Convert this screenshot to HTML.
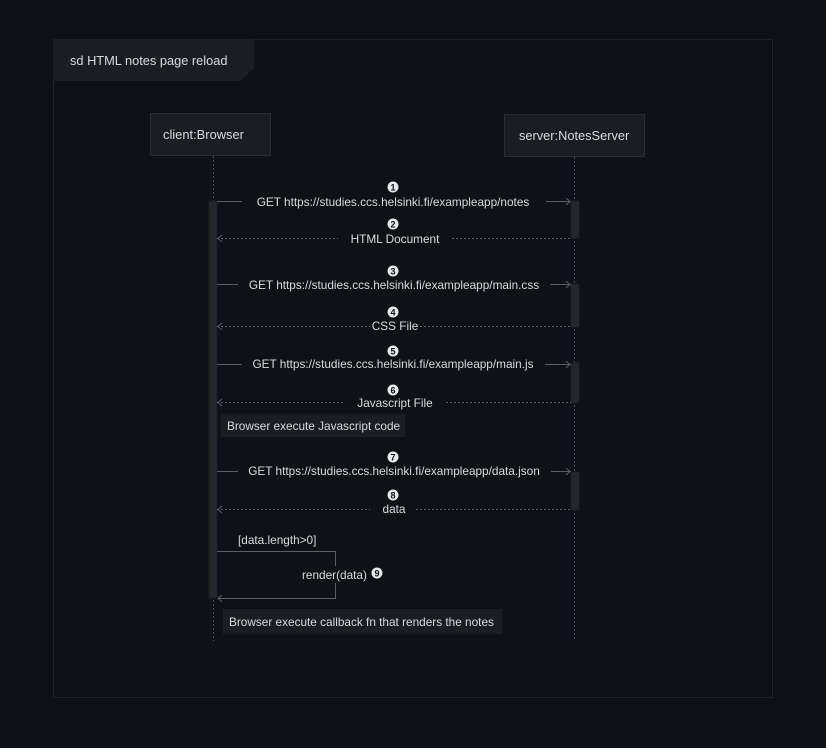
<!DOCTYPE html>
<html><head><meta charset="utf-8"><style>
html,body{margin:0;padding:0;background:#0e1118;}
svg{display:block}
text{font-family:"Liberation Sans",sans-serif;fill:#d8dade;font-size:11.8px}
</style></head><body>
<svg width="826" height="748" viewBox="0 0 826 748" xmlns="http://www.w3.org/2000/svg">
<rect width="826" height="748" fill="#0e1118"/>
<rect x="53.5" y="39.5" width="719" height="658" fill="#0e1118" stroke="#1f2229"/>
<polygon points="53,39 254,39 254,68 241,81 53,81" fill="#1b1d22"/>
<text x="70" y="65" style="font-size:12.8px">sd HTML notes page reload</text>
<rect x="150.5" y="113.5" width="120" height="42" fill="#1b1d22" stroke="#2a2d33"/>
<text x="163" y="139" style="font-size:12.9px">client:Browser</text>
<rect x="504.5" y="114.5" width="140" height="42" fill="#1b1d22" stroke="#2a2d33"/>
<text x="519" y="140" style="font-size:12.8px">server:NotesServer</text>
<g stroke="#4a4d55" stroke-dasharray="2,2" stroke-width="1">
<line x1="213.5" y1="156" x2="213.5" y2="641"/>
<line x1="574.5" y1="157" x2="574.5" y2="641"/>
</g>
<g fill="#26272a" stroke="#1c1d20">
<rect x="209" y="201" width="8" height="397"/>
<rect x="571" y="201" width="8" height="37"/>
<rect x="571" y="284" width="8" height="43"/>
<rect x="571" y="363" width="8" height="40"/>
<rect x="571" y="472" width="8" height="38"/>
</g>
<g stroke="#5a5d64" stroke-width="1" fill="none">
<line x1="217" y1="201.5" x2="242" y2="201.5"/><line x1="546" y1="201.5" x2="571" y2="201.5"/><polyline points="566,198 570,201.5 566,205"/>
<line x1="217" y1="284.5" x2="238" y2="284.5"/><line x1="550" y1="284.5" x2="571" y2="284.5"/><polyline points="566,281 570,284.5 566,288"/>
<line x1="217" y1="364.5" x2="242" y2="364.5"/><line x1="545" y1="364.5" x2="571" y2="364.5"/><polyline points="566,361 570,364.5 566,368"/>
<line x1="217" y1="471.5" x2="238" y2="471.5"/><line x1="551" y1="471.5" x2="571" y2="471.5"/><polyline points="566,468 570,471.5 566,475"/>
<polyline points="217,551.5 335.5,551.5 335.5,566"/><polyline points="335.5,583 335.5,598.5 218,598.5"/><polyline points="222,595 218,598.5 222,602"/>
</g>
<g stroke="#5a5d64" stroke-width="1" fill="none" stroke-dasharray="2,2">
<line x1="217" y1="238.5" x2="338" y2="238.5"/><line x1="452" y1="238.5" x2="571" y2="238.5"/>
<line x1="217" y1="326.5" x2="370" y2="326.5"/><line x1="420" y1="326.5" x2="571" y2="326.5"/>
<line x1="217" y1="402.5" x2="343" y2="402.5"/><line x1="446" y1="402.5" x2="571" y2="402.5"/>
<line x1="217" y1="509.5" x2="370" y2="509.5"/><line x1="416" y1="509.5" x2="571" y2="509.5"/>
</g>
<g stroke="#5a5d64" fill="none">
<polyline points="222,235 218,238.5 222,242"/><polyline points="222,323 218,326.5 222,330"/>
<polyline points="222,399 218,402.5 222,406"/><polyline points="222,506 218,509.5 222,513"/>
</g>
<g text-anchor="middle">
<text x="393" y="206">GET https://studies.ccs.helsinki.fi/exampleapp/notes</text>
<text x="395" y="243">HTML Document</text>
<text x="394" y="289">GET https://studies.ccs.helsinki.fi/exampleapp/main.css</text>
<text x="395" y="330">CSS File</text>
<text x="393" y="368">GET https://studies.ccs.helsinki.fi/exampleapp/main.js</text>
<text x="395" y="407">Javascript File</text>
<text x="394" y="475">GET https://studies.ccs.helsinki.fi/exampleapp/data.json</text>
<text x="394" y="513">data</text>
</g>
<g>
<circle cx="393" cy="187" r="5.5" fill="#e8e8ea"/><text x="393" y="190.5" text-anchor="middle" font-weight="bold" style="fill:#0e1118;font-size:9px">1</text>
<circle cx="393" cy="224" r="5.5" fill="#e8e8ea"/><text x="393" y="227.5" text-anchor="middle" font-weight="bold" style="fill:#0e1118;font-size:9px">2</text>
<circle cx="393" cy="271" r="5.5" fill="#e8e8ea"/><text x="393" y="274.5" text-anchor="middle" font-weight="bold" style="fill:#0e1118;font-size:9px">3</text>
<circle cx="393" cy="312" r="5.5" fill="#e8e8ea"/><text x="393" y="315.5" text-anchor="middle" font-weight="bold" style="fill:#0e1118;font-size:9px">4</text>
<circle cx="393" cy="351" r="5.5" fill="#e8e8ea"/><text x="393" y="354.5" text-anchor="middle" font-weight="bold" style="fill:#0e1118;font-size:9px">5</text>
<circle cx="393" cy="390" r="5.5" fill="#e8e8ea"/><text x="393" y="393.5" text-anchor="middle" font-weight="bold" style="fill:#0e1118;font-size:9px">6</text>
<circle cx="393" cy="457" r="5.5" fill="#e8e8ea"/><text x="393" y="460.5" text-anchor="middle" font-weight="bold" style="fill:#0e1118;font-size:9px">7</text>
<circle cx="393" cy="495" r="5.5" fill="#e8e8ea"/><text x="393" y="498.5" text-anchor="middle" font-weight="bold" style="fill:#0e1118;font-size:9px">8</text>
<circle cx="377" cy="573" r="5.5" fill="#e8e8ea"/><text x="377" y="576.5" text-anchor="middle" font-weight="bold" style="fill:#0e1118;font-size:9px">9</text>
</g>
<text x="238" y="544">[data.length&gt;0]</text>
<text x="302" y="579">render(data)</text>
<rect x="221" y="414" width="184" height="23" fill="#1b1d22"/>
<text x="227" y="430">Browser execute Javascript code</text>
<rect x="223" y="609" width="279" height="25" fill="#1b1d22"/>
<text x="229" y="626">Browser execute callback fn that renders the notes</text>
</svg>
</body></html>
